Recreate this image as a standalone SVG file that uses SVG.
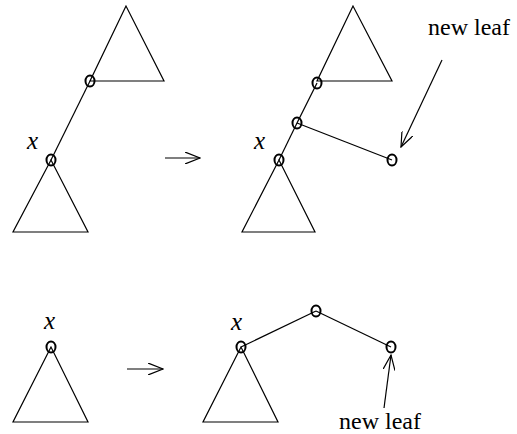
<svg xmlns="http://www.w3.org/2000/svg" width="517" height="434" viewBox="0 0 517 434">
<style>
.e{fill:none;stroke:#000;stroke-width:1.2}
.t{fill:none;stroke:#000;stroke-width:1.2}
.n{fill:none;stroke:#000;stroke-width:2}
.lbl{font-family:"Liberation Serif",serif;font-size:24px;fill:#000}
.x{font-family:"Liberation Serif",serif;font-style:italic;font-size:25px;fill:#000}
</style>
<defs>
<marker id="ah" markerWidth="16" markerHeight="12" refX="15" refY="6" orient="auto" markerUnits="userSpaceOnUse">
<path d="M0,0 L15,6 L0,12" fill="none" stroke="#000" stroke-width="1.2"/>
</marker>
</defs>
<g id="connectors">
<line class="e" x1="90" y1="81" x2="51" y2="160"/>
<line class="e" x1="317" y1="83" x2="297" y2="123"/>
<line class="e" x1="297" y1="123" x2="279" y2="160"/>
<line class="e" x1="297" y1="123" x2="392" y2="160"/>
<line class="e" x1="241" y1="347" x2="316" y2="311"/>
<line class="e" x1="316" y1="311" x2="391" y2="347"/>
<line class="e" x1="165" y1="158" x2="200" y2="158" marker-end="url(#ah)"/>
<line class="e" x1="127" y1="369" x2="163" y2="369" marker-end="url(#ah)"/>
<line class="e" x1="442" y1="60" x2="401" y2="147" marker-end="url(#ah)"/>
<line class="e" x1="384" y1="408" x2="391" y2="355" marker-end="url(#ah)"/>
</g>
<g id="tree1-top"><polygon class="t" points="126,6 90,81 164,81"/></g>
<g id="tree1-bottom"><polygon class="t" points="51,160 13,232 88,232"/></g>
<g id="n1a"><ellipse class="n" cx="90" cy="81" rx="4.5" ry="5.5"/></g>
<g id="n1x"><ellipse class="n" cx="51" cy="160" rx="4.5" ry="5.5"/><text class="x" x="27" y="149">x</text></g>
<g id="tree2-top"><polygon class="t" points="353,6 317,81 392,81"/></g>
<g id="tree2-bottom"><polygon class="t" points="279,160 242,232 315,232"/></g>
<g id="n2a"><ellipse class="n" cx="317" cy="83" rx="4.5" ry="5.5"/></g>
<g id="n2m"><ellipse class="n" cx="297" cy="123" rx="4.5" ry="5.5"/></g>
<g id="n2x"><ellipse class="n" cx="279" cy="160" rx="4.5" ry="5.5"/><text class="x" x="254" y="149">x</text></g>
<g id="n2leaf"><ellipse class="n" cx="392" cy="160" rx="4.5" ry="5.5"/></g>
<g id="label-top"><text class="lbl" x="428" y="35">new leaf</text></g>
<g id="tree3"><polygon class="t" points="51,347 13,422 88,422"/></g>
<g id="n3x"><ellipse class="n" cx="51" cy="347" rx="4.5" ry="5.5"/><text class="x" x="44" y="329">x</text></g>
<g id="tree4"><polygon class="t" points="241,347 203,422 278,422"/></g>
<g id="n4x"><ellipse class="n" cx="241" cy="347" rx="4.5" ry="5.5"/><text class="x" x="231" y="330">x</text></g>
<g id="n4top"><ellipse class="n" cx="316" cy="311" rx="4.5" ry="5.5"/></g>
<g id="n4leaf"><ellipse class="n" cx="391" cy="347" rx="4.5" ry="5.5"/></g>
<g id="label-bottom"><text class="lbl" x="339" y="429">new leaf</text></g>
</svg>
